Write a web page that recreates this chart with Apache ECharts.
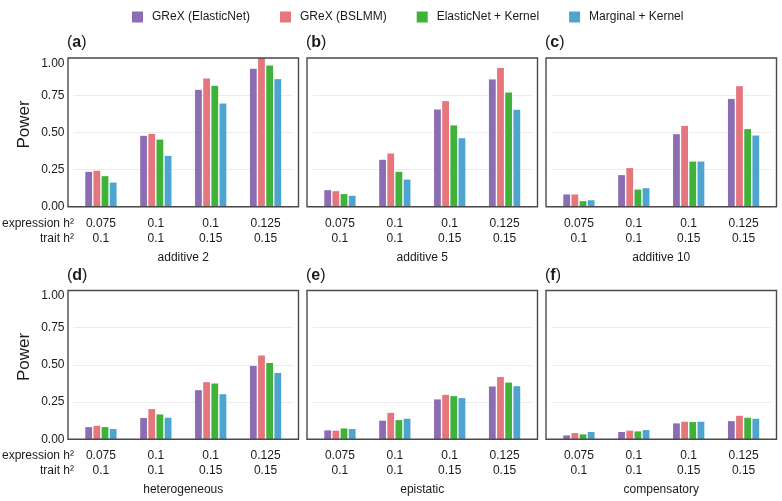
<!DOCTYPE html>
<html><head><meta charset="utf-8">
<script src="https://cdn.jsdelivr.net/npm/echarts@6/dist/echarts.min.js"></script>
<style>html,body{margin:0;padding:0;background:#fff}#c{width:782px;height:501px}</style>
</head><body><div id="c"></div>
<script>
// ---- data ----
const expressionH2 = ['0.075', '0.1', '0.1', '0.125'];
const traitH2 = ['0.1', '0.1', '0.15', '0.15'];
const panelTitles = ['additive 2', 'additive 5', 'additive 10', 'heterogeneous', 'epistatic', 'compensatory'];
const panelTags = ['a', 'b', 'c', 'd', 'e', 'f'];
const methodNames = ['GReX (ElasticNet)', 'GReX (BSLMM)', 'ElasticNet + Kernel', 'Marginal + Kernel'];
const yTickLabels = ['0.00', '0.25', '0.50', '0.75', '1.00'];
// one row per panel (a..f), one value per h2 setting
const grexElasticNet = [
  [0.235, 0.477, 0.786, 0.927],
  [0.112, 0.316, 0.654, 0.856],
  [0.083, 0.213, 0.488, 0.725],
  [0.082, 0.143, 0.330, 0.493],
  [0.060, 0.125, 0.268, 0.355],
  [0.026, 0.049, 0.107, 0.122]
];
const grexBSLMM = [
  [0.242, 0.490, 0.863, 1.000],
  [0.105, 0.358, 0.710, 0.932],
  [0.083, 0.260, 0.544, 0.811],
  [0.091, 0.203, 0.384, 0.563],
  [0.058, 0.178, 0.299, 0.419],
  [0.042, 0.058, 0.118, 0.158]
];
const elasticNetKernel = [
  [0.206, 0.452, 0.813, 0.950],
  [0.085, 0.235, 0.547, 0.768],
  [0.038, 0.116, 0.304, 0.522],
  [0.082, 0.167, 0.375, 0.513],
  [0.073, 0.129, 0.290, 0.381],
  [0.033, 0.053, 0.116, 0.145]
];
const marginalKernel = [
  [0.163, 0.342, 0.694, 0.858],
  [0.074, 0.183, 0.461, 0.652],
  [0.044, 0.125, 0.304, 0.479],
  [0.069, 0.145, 0.303, 0.446],
  [0.069, 0.138, 0.277, 0.357],
  [0.049, 0.062, 0.118, 0.138]
];

// ---- styling / layout ----
const methodData = [grexElasticNet, grexBSLMM, elasticNetKernel, marginalKernel];
const colors = ['#8c6db3', '#e5767e', '#3fb23a', '#4ea4d0'];
const FONT = "'Liberation Sans', Arial, Helvetica, sans-serif";
const TXT = '#1a1a1a';
const FS = 12;
const colLeft = [68, 307, 546];
const frameW = 230.5;
const rowTop = [58, 290.5];
const frameH = 148.8;
const pad = 0.1 * frameW / 4.2;

const grid = [], xAxis = [], yAxis = [], series = [], graphic = [];
for (let i = 0; i < 6; i++) {
  const r = Math.floor(i / 3), c = i % 3;
  grid.push({ left: colLeft[c] + pad, top: rowTop[r], width: frameW - 2 * pad, height: frameH });
  xAxis.push({
    type: 'category', gridIndex: i,
    data: expressionH2.map((e, k) => e + '\n' + traitH2[k]),
    axisLine: { show: false }, axisTick: { show: false },
    axisLabel: { margin: 9, fontSize: FS, lineHeight: 15, color: TXT, fontFamily: FONT },
    name: panelTitles[i], nameLocation: 'middle', nameGap: 44.5,
    nameTextStyle: { fontSize: FS, color: TXT, fontFamily: FONT }
  });
  yAxis.push({
    type: 'value', gridIndex: i, min: 0, max: 1, interval: 0.25,
    axisLine: { show: false }, axisTick: { show: false },
    axisLabel: {
      show: c === 0, margin: 9, fontSize: FS, color: TXT, fontFamily: FONT,
      formatter: v => {
        const k = Math.round(v / 0.25);
        return k === 4 ? '{mx|' + yTickLabels[k] + '}' : yTickLabels[k];
      },
      rich: { mx: { padding: [11, 0, 0, 0], fontSize: FS, color: TXT, fontFamily: FONT } }
    },
    splitLine: { show: true, lineStyle: { color: '#ececec', width: 1 } }
  });
  for (let m = 0; m < 4; m++) {
    series.push({
      type: 'bar', name: methodNames[m], xAxisIndex: i, yAxisIndex: i,
      data: methodData[m][i], barWidth: 6.8, barGap: '20%',
      itemStyle: { color: colors[m] }, emphasis: { disabled: true }
    });
  }
  graphic.push({
    type: 'text', left: colLeft[c] - 1, top: rowTop[r] - 23,
    style: {
      text: '{p|(}{b|' + panelTags[i] + '}{p|)}',
      rich: {
        p: { fontSize: 16, fontFamily: FONT, fill: TXT },
        b: { fontSize: 16, fontFamily: FONT, fontWeight: 'bold', fill: TXT }
      }
    }
  });
}
// frames (separate grids, drawn above the bars)
for (let i = 0; i < 6; i++) {
  const r = Math.floor(i / 3), c = i % 3;
  grid.push({ left: colLeft[c], top: rowTop[r], width: frameW, height: frameH, show: true,
    borderColor: '#4a4a4a', borderWidth: 1.4, backgroundColor: 'rgba(0,0,0,0)', z: 10 });
}
for (let r = 0; r < 2; r++) {
  const fb = rowTop[r] + frameH;
  graphic.push({ type: 'text', x: 74, y: fb + 16.5,
    style: { text: 'expression h²', align: 'right', verticalAlign: 'middle', fontSize: FS, fontFamily: FONT, fill: TXT } });
  graphic.push({ type: 'text', x: 74, y: fb + 31.5,
    style: { text: 'trait h²', align: 'right', verticalAlign: 'middle', fontSize: FS, fontFamily: FONT, fill: TXT } });
  graphic.push({ type: 'text', x: 24, y: rowTop[r] + frameH / 2 - 8, rotation: Math.PI / 2,
    style: { text: 'Power', align: 'center', verticalAlign: 'middle', fontSize: 17, fontFamily: FONT, fill: TXT } });
}

const chart = echarts.init(document.getElementById('c'), null, { renderer: 'canvas' });
chart.setOption({
  animation: false,
  backgroundColor: '#fff',
  legend: {
    data: methodNames, left: 132, top: 11, padding: 0, itemWidth: 11, itemHeight: 11, itemGap: 30,
    icon: 'rect',
    textStyle: { fontSize: FS, color: TXT, fontFamily: FONT, padding: [0, 0, 0, 4] }
  },
  grid, xAxis, yAxis, series, graphic
});
</script>
</body></html>
